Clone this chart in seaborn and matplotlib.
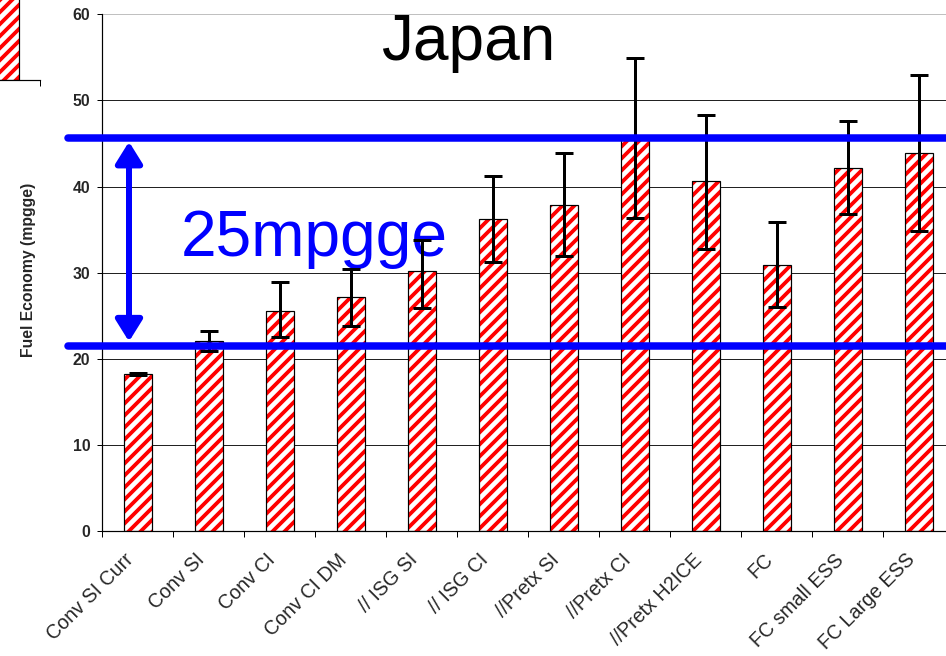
import numpy as np
import matplotlib
matplotlib.use('Agg')
import matplotlib.pyplot as plt
import matplotlib.transforms as mtransforms
from matplotlib.patches import Rectangle
import seaborn as sns

# 主题
sns.set_theme(style='white')
plt.rcParams['font.family'] = ['Liberation Sans', 'DejaVu Sans']
plt.rcParams['hatch.linewidth'] = 1.9

# 数据 (mpgge)
categories = ['Conv SI Curr', 'Conv SI', 'Conv CI', 'Conv CI DM', '// ISG SI', '// ISG CI',
              '//Pretx SI', '//Pretx CI', '//Pretx H2ICE', 'FC', 'FC small ESS', 'FC Large ESS']
values = [18.2, 22.1, 25.6, 27.2, 30.2, 36.2, 37.9, 45.4, 40.6, 30.9, 42.2, 43.9]
err_low = [18.1, 20.9, 22.5, 23.8, 25.9, 31.2, 31.9, 36.3, 32.7, 26.0, 36.8, 34.8]
err_high = [18.3, 23.2, 28.9, 30.4, 33.8, 41.2, 43.9, 54.9, 48.3, 35.9, 47.6, 52.9]
band_low, band_high = 21.5, 45.6
band_label = '25mpgge'
title = 'Japan'
# 左上角被裁掉的另一张图的残片
fragment_cat = ['prev']
fragment_val = [45.0]

DPI = 144
fig = plt.figure(figsize=(946 / DPI, 656 / DPI), dpi=DPI)
ax = fig.add_axes([102.3 / 946, 125 / 656, 852 / 946, 516.7 / 656])


def hatched_bars(axis, x, y):
    sns.barplot(x=x, y=y, color='white', edgecolor='red', linewidth=0, hatch='////',
                width=0.4, saturation=1, errorbar=None, ax=axis)
    for p in list(axis.patches):
        axis.add_patch(Rectangle(p.get_xy(), p.get_width(), p.get_height(), fill=False,
                                 edgecolor='black', lw=0.6, zorder=2.5))


hatched_bars(ax, categories, values)

vals = np.array(values)
yerr = [vals - np.array(err_low), np.array(err_high) - vals]
ax.errorbar(np.arange(len(categories)), vals, yerr=yerr, fmt='none', ecolor='black',
            elinewidth=1.5, capsize=4.5, capthick=1.5, zorder=4)

ax.set_xlim(-0.5, len(categories) - 0.5)
ax.set_ylim(0, 60)
ax.set_yticks(np.arange(0, 61, 10))
ax.set_axisbelow(True)
ax.yaxis.grid(True, color='#222222', lw=0.5)
ax.get_ygridlines()[-1].set_color('#c0c0c0')
for s in ['top', 'right']:
    ax.spines[s].set_visible(False)
for s in ['left', 'bottom']:
    ax.spines[s].set_color('black')
    ax.spines[s].set_linewidth(0.6)

ax.set_xticks(np.arange(len(categories)))
ax.set_xticks(np.arange(-0.5, len(categories), 1), minor=True)
ax.set_xticklabels(categories, rotation=45, ha='right', va='center', rotation_mode='anchor',
                   fontsize=9.8)
ax.tick_params(axis='x', which='major', length=0, pad=13)
ax.tick_params(axis='x', which='minor', bottom=True, length=3, width=0.5, color='black')
ax.tick_params(axis='y', left=True, length=2.5, width=0.5, color='black', pad=3.5,
               labelsize=7.85)
for t in ax.get_yticklabels():
    t.set_fontweight('bold')
shift = mtransforms.ScaledTranslation(-7 / DPI, 0, fig.dpi_scale_trans)
for t in ax.get_xticklabels():
    t.set_transform(t.get_transform() + shift)

ax.set_xlabel('')
ax.set_ylabel('Fuel Economy (mpgge)', fontsize=7.85, fontweight='bold')
ax.yaxis.set_label_coords(-0.078, 0.505)

# 蓝色区间线和箭头
for yv in [band_high, band_low]:
    ax.axhline(yv, xmin=-0.04, xmax=1, color='#0000ff', lw=3.75, clip_on=False, zorder=5)
ax.annotate('', xy=(-0.124, band_high - 0.4), xytext=(-0.124, band_low + 0.5),
            arrowprops=dict(arrowstyle='<|-|>,head_length=0.45,head_width=0.28',
                            color='#0000ff', lw=3, mutation_scale=20,
                            shrinkA=0, shrinkB=0),
            zorder=6, annotation_clip=False)
ax.text(0.608, 31.9, band_label, color='#0000ff', fontsize=32, ha='left', va='baseline',
        zorder=3)
ax.text(3.425, 54.7, title, color='black', fontsize=32, ha='left', va='baseline', zorder=3)

# 残片
ax2 = fig.add_axes([-31 / 946, 576 / 656, 71 / 946, 150 / 656])
hatched_bars(ax2, fragment_cat, fragment_val)
ax2.set_xlim(-0.5, 0.5)
ax2.set_ylim(0, 60)
for s in ['top', 'right', 'left']:
    ax2.spines[s].set_visible(False)
ax2.spines['bottom'].set_color('black')
ax2.spines['bottom'].set_linewidth(0.6)
ax2.set_xticks([])
ax2.set_xticks([-0.5, 0.5], minor=True)
ax2.set_yticks([])
ax2.tick_params(axis='x', which='minor', bottom=True, length=3, width=0.5, color='black')
ax2.set_xlabel('')
ax2.set_ylabel('')

fig.savefig('out.png', dpi=DPI)
